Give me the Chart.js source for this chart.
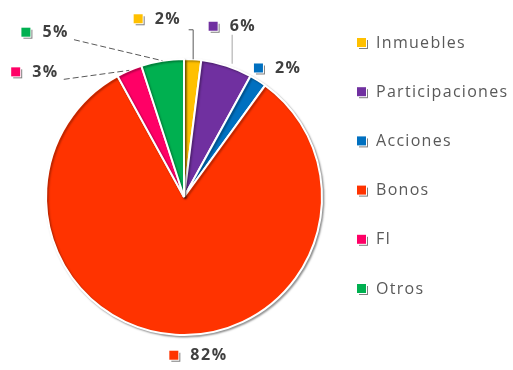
<!DOCTYPE html>
<html>
<head>
<meta charset="utf-8">
<script src="https://cdn.jsdelivr.net/npm/chart.js@4.4.1/dist/chart.umd.min.js"></script>
<style>
  html, body { margin: 0; padding: 0; background: #fff; }
  #wrap { width: 513px; height: 370px; }
</style>
</head>
<body>
<div id="wrap"><canvas id="pie" width="513" height="370"></canvas></div>
<script>
// portfolio breakdown
const categories = ['Inmuebles', 'Participaciones', 'Acciones', 'Bonos', 'FI', 'Otros'];
const shares = [2, 6, 2, 82, 3, 5];
const colors = ['#FFC000', '#7030A0', '#0070C0', '#FF3300', '#FF0066', '#00B050'];

// where each percent label sits relative to the slice edge, and how its leader runs
const labelLayout = [
  { dx: -38, dy: -40, leader: 'hook' },
  { dx: 3, dy: -39, leader: 'below' },
  { dx: 17, dy: -12, leader: 'none' },
  { dx: 15, dy: 21, leader: 'none' },
  { dx: -97, dy: 2, leader: 'right' },
  { dx: -120, dy: -28, leader: 'right' }
];

const FONT = '"Open Sans", "Liberation Sans", sans-serif';

function keyBox(ctx, x, y, color) {
  // little square with the grey drop edge Excel puts on it
  ctx.fillStyle = '#7f7f7f';
  ctx.fillRect(x + 2, y + 2, 9, 9);
  ctx.fillStyle = '#fff';
  ctx.fillRect(x + 1, y + 1, 9, 9);
  ctx.fillStyle = color;
  ctx.fillRect(x, y, 9, 9);
}

const pieShadow = {
  id: 'pieShadow',
  beforeDatasetDraw(chart) {
    const ctx = chart.ctx;
    ctx.save();
    ctx.shadowColor = 'rgba(0,0,0,0.35)';
    ctx.shadowBlur = 2;
    ctx.shadowOffsetX = 1.5;
    ctx.shadowOffsetY = 1.5;
  },
  afterDatasetDraw(chart) {
    chart.ctx.restore();
  }
};

const sliceLabels = {
  id: 'sliceLabels',
  afterDraw(chart) {
    const ctx = chart.ctx;
    const arcs = chart.getDatasetMeta(0).data;
    ctx.save();
    ctx.font = 'bold 16px ' + FONT;
    ctx.letterSpacing = '1.5px';
    ctx.textBaseline = 'middle';
    arcs.forEach((arc, i) => {
      const p = arc.getProps(['x', 'y', 'startAngle', 'endAngle', 'outerRadius'], true);
      const mid = (p.startAngle + p.endAngle) / 2;
      const ex = p.x + Math.cos(mid) * p.outerRadius;
      const ey = p.y + Math.sin(mid) * p.outerRadius;
      const lay = labelLayout[i];
      const tx = ex + lay.dx;
      const ty = ey + lay.dy;
      const txt = shares[i] + '%';
      const w = ctx.measureText(txt).width;

      ctx.strokeStyle = '#595959';
      ctx.lineWidth = 1;
      ctx.beginPath();
      if (lay.leader === 'hook') {
        ctx.moveTo(ex - 4, ty + 10.5);
        ctx.lineTo(ex + 0.5, ty + 10.5);
        ctx.lineTo(ex + 0.5, ey);
      } else if (lay.leader === 'below') {
        ctx.strokeStyle = '#a6a6a6';
        ctx.moveTo(tx + 2.5, ty + 8);
        ctx.lineTo(tx + 2.5, ey - 2);
      } else if (lay.leader === 'right') {
        ctx.setLineDash([6, 3]);
        ctx.moveTo(tx + w + 5, ty + 7);
        ctx.lineTo(ex, ey);
      }
      ctx.stroke();
      ctx.setLineDash([]);

      keyBox(ctx, tx - 21, ty - 5, colors[i]);
      ctx.fillStyle = '#404040';
      ctx.fillText(txt, tx, ty);
    });
    ctx.restore();
  }
};

const sideLegend = {
  id: 'sideLegend',
  afterDraw(chart) {
    const ctx = chart.ctx;
    ctx.save();
    ctx.font = '16px ' + FONT;
    ctx.letterSpacing = '1.3px';
    ctx.textBaseline = 'middle';
    categories.forEach((name, i) => {
      const y = 43 + i * 49.2;
      keyBox(ctx, 357, y - 5, colors[i]);
      ctx.fillStyle = '#595959';
      ctx.fillText(name, 376, y);
    });
    ctx.restore();
  }
};

new Chart(document.getElementById('pie'), {
  type: 'pie',
  data: {
    labels: categories,
    datasets: [{
      data: shares,
      backgroundColor: colors,
      borderColor: '#ffffff',
      borderWidth: 2
    }]
  },
  options: {
    responsive: false,
    animation: false,
    layout: { padding: { left: 45, right: 190, top: 58, bottom: 34 } },
    plugins: {
      legend: { display: false },
      tooltip: { enabled: false }
    }
  },
  plugins: [pieShadow, sliceLabels, sideLegend]
});
</script>
</body>
</html>
